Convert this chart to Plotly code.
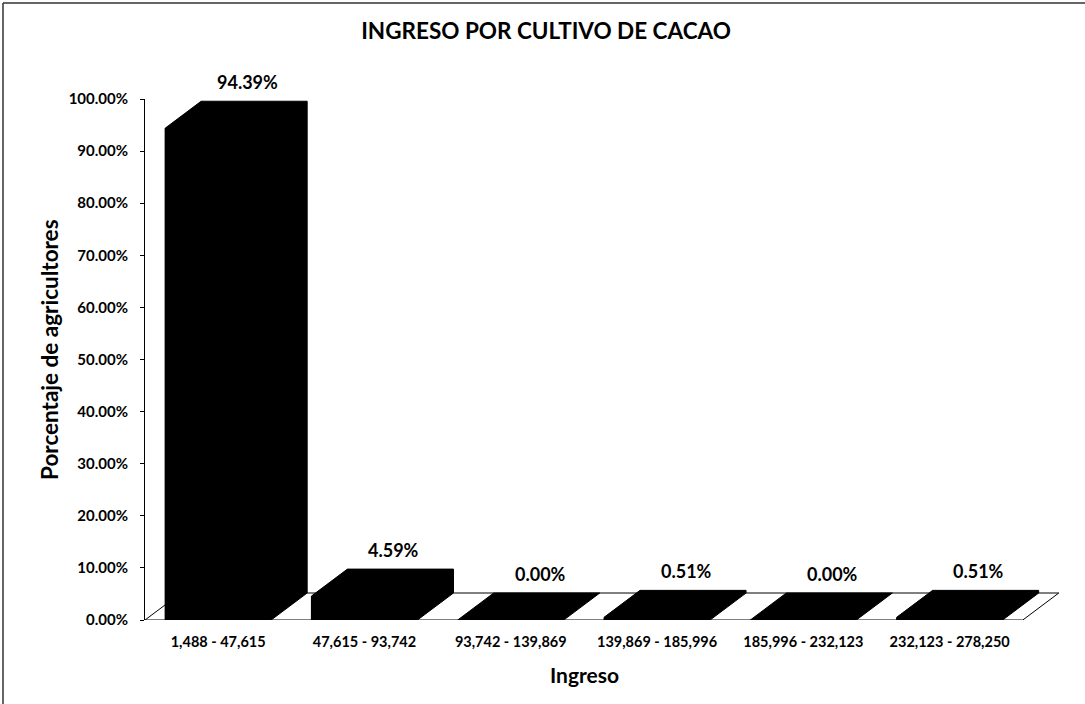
import plotly.graph_objects as go

categories = ["1,488 - 47,615", "47,615 - 93,742", "93,742 - 139,869",
              "139,869 - 185,996", "185,996 - 232,123", "232,123 - 278,250"]
values = [94.39, 4.59, 0.00, 0.51, 0.00, 0.51]
value_labels = ["94.39%", "4.59%", "0.00%", "0.51%", "0.00%", "0.51%"]
y_ticks = [0, 10, 20, 30, 40, 50, 60, 70, 80, 90, 100]
y_tick_text = ["0.00%", "10.00%", "20.00%", "30.00%", "40.00%", "50.00%",
               "60.00%", "70.00%", "80.00%", "90.00%", "100.00%"]

FONT = "Lato"
BAR_W = 0.725
DX = 0.246   # depth offset in category units
DY = 5.18    # depth offset in value units

L, R, T, B = 145, 10, 99, 84
W = 1085 - L - R
H = 704 - T - B
xs = list(range(len(categories)))

fig = go.Figure()

# front faces
fig.add_trace(go.Bar(x=xs, y=values, width=BAR_W, marker=dict(color="black", line=dict(width=0)),
                     showlegend=False, hoverinfo="skip"))

# 3D silhouette (front + top + side)
for i, v in zip(xs, values):
    x0, x1 = i - BAR_W / 2, i + BAR_W / 2
    px = [x0, x0, x0 + DX, x1 + DX, x1 + DX, x1, x0]
    py = [0, v, v + DY, v + DY, DY, 0, 0]
    fig.add_trace(go.Scatter(x=px, y=py, mode="lines", fill="toself", fillcolor="black",
                             line=dict(color="black", width=1), showlegend=False, hoverinfo="skip"))

n = len(categories)
# floor
fig.add_shape(type="path", xref="x", yref="y", layer="below",
              path=f"M {-0.5} 0 L {n - 0.5} 0 L {n - 0.5 + DX} {DY} L {-0.5 + DX} {DY} Z",
              fillcolor="white", line=dict(color="black", width=1))

# value labels
for i, v, t in zip(xs, values, value_labels):
    fig.add_annotation(x=i + 0.2, y=v + DY, text=f"<b>{t}</b>", showarrow=False, yanchor="bottom", yshift=6,
                       font=dict(family=FONT, size=18, color="black"))

# axis titles
def px2x(p):
    return (p - L) / W

def py2y(p):
    return (704 - B - p) / H

fig.add_annotation(xref="paper", yref="paper", x=px2x(49), y=py2y(350), xanchor="center", yanchor="middle",
                   text="<b>Porcentaje de agricultores</b>",
                   textangle=-90, showarrow=False, font=dict(family=FONT, size=22.5, color="black"))
fig.add_annotation(xref="paper", yref="paper", x=px2x(584), y=py2y(674), xanchor="center", yanchor="middle",
                   text="<b>Ingreso</b>",
                   showarrow=False, font=dict(family=FONT, size=21, color="black"))

# chart border (top and left)
fig.add_shape(type="line", xref="paper", yref="paper", x0=px2x(3), x1=px2x(1085), y0=py2y(3), y1=py2y(3),
              line=dict(color="#333", width=1.5))
fig.add_shape(type="line", xref="paper", yref="paper", x0=px2x(3), x1=px2x(3), y0=py2y(3), y1=py2y(704),
              line=dict(color="#333", width=1.5))

fig.update_layout(
    width=1085, height=704,
    margin=dict(l=L, r=R, t=T, b=B),
    paper_bgcolor="white", plot_bgcolor="white",
    title=dict(text="<b>INGRESO POR CULTIVO DE CACAO</b>", x=546 / 1085, xanchor="center",
               y=1 - 31 / 704, yanchor="middle", font=dict(family=FONT, size=22.5, color="black")),
    bargap=0,
    xaxis=dict(range=[-0.5, -0.5 + W / 146.3], tickvals=xs, ticktext=[f"<b>{c}</b>" for c in categories],
               showgrid=False, zeroline=False, showline=False, ticks="",
               tickfont=dict(family=FONT, size=14.5, color="black"), ticklabelstandoff=11),
    yaxis=dict(range=[0, 100], tickvals=y_ticks, ticktext=[f"<b>{t}</b>" for t in y_tick_text],
               showgrid=False, zeroline=False, showline=True, linecolor="black", linewidth=1,
               ticks="outside", ticklen=4, tickcolor="black", ticklabelstandoff=9,
               tickfont=dict(family=FONT, size=15, color="black")),
)

fig.write_html("out.html")
